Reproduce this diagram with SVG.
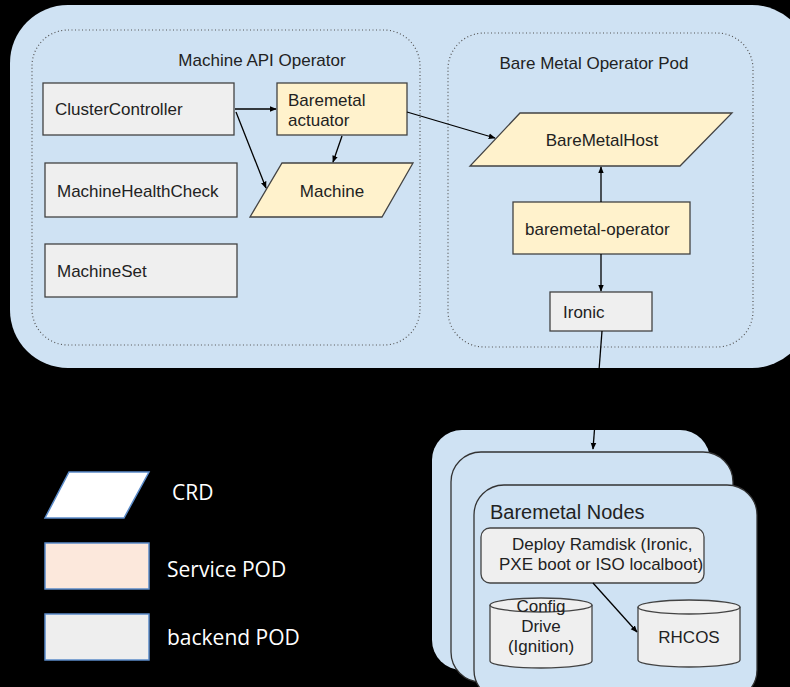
<svg xmlns="http://www.w3.org/2000/svg" width="790" height="687" viewBox="0 0 790 687">
  <defs>
    <marker id="arrow" viewBox="0 0 10 10" refX="9" refY="5" markerWidth="7" markerHeight="7" orient="auto" markerUnits="userSpaceOnUse">
      <path d="M0,1 L10,5 L0,9 z" fill="#000"/>
    </marker>
    <style>
      .panel { fill: #cfe2f3; }
      .group { fill: none; stroke: #555; stroke-width: 1.2; stroke-dasharray: 1 2.5; }
      .backend { fill: #efefef; stroke: #434343; stroke-width: 1.3; }
      .service { fill: #fff2cc; stroke: #434343; stroke-width: 1.3; }
      .card { fill: #cfe2f3; stroke: #333; stroke-width: 1.3; }
      .lbl { font-family: "Liberation Sans", Arial, sans-serif; font-size: 17px; fill: #222; }
      .mid { text-anchor: middle; }
      .edge { fill: none; stroke: #000; stroke-width: 1.3; marker-end: url(#arrow); }
      .key { stroke: #5b8bc9; stroke-width: 1.5; }
      .keytxt { font-family: "Open Sans", "Noto Sans", sans-serif; font-size: 21px; fill: #fff; }
    </style>
  </defs>

  <rect width="790" height="687" fill="#000"/>

  <!-- cluster panel -->
  <rect class="panel" x="10" y="5" width="800" height="363" rx="58"/>

  <g id="machine-api-operator">
    <rect class="group" x="32" y="30" width="388" height="315" rx="36"/>
    <text class="lbl mid" x="262" y="66">Machine API Operator</text>
  </g>

  <g id="bare-metal-operator-pod">
    <rect class="group" x="448" y="33" width="305" height="314" rx="36"/>
    <text class="lbl mid" x="594" y="69">Bare Metal Operator Pod</text>
  </g>

  <g id="cluster-controller">
    <rect class="backend" x="43" y="83" width="191" height="52"/>
    <text class="lbl" x="55" y="115">ClusterController</text>
  </g>

  <g id="machine-health-check">
    <rect class="backend" x="45" y="163" width="192" height="54"/>
    <text class="lbl" x="57" y="197">MachineHealthCheck</text>
  </g>

  <g id="machine-set">
    <rect class="backend" x="45" y="244" width="192" height="53"/>
    <text class="lbl" x="57" y="277">MachineSet</text>
  </g>

  <g id="baremetal-actuator">
    <rect class="service" x="277" y="83" width="130" height="52"/>
    <text class="lbl" x="288" y="106">Baremetal</text>
    <text class="lbl" x="288" y="126">actuator</text>
  </g>

  <g id="machine">
    <polygon class="service" points="282,163 413,163 382,217 250,217"/>
    <text class="lbl mid" x="332" y="197">Machine</text>
  </g>

  <g id="bare-metal-host">
    <polygon class="service" points="520,113 732,113 680,166 470,166"/>
    <text class="lbl mid" x="602" y="146">BareMetalHost</text>
  </g>

  <g id="baremetal-operator">
    <rect class="service" x="513" y="202" width="177" height="52"/>
    <text class="lbl" x="525" y="235">baremetal-operator</text>
  </g>

  <g id="ironic">
    <rect class="backend" x="550" y="292" width="102" height="39"/>
    <text class="lbl" x="563" y="318">Ironic</text>
  </g>

  <!-- stacked node cards -->
  <g id="baremetal-nodes">
    <rect x="432" y="430" width="278" height="240" rx="30" fill="#cfe2f3"/>
    <rect class="card" x="451" y="452" width="282" height="230" rx="30"/>
    <rect class="card" x="474" y="485" width="283" height="215" rx="30"/>
    <text class="lbl" x="490" y="519" style="font-size:20px">Baremetal Nodes</text>
  </g>

  <g id="deploy-ramdisk">
    <rect class="backend" x="481" y="528" width="223" height="55" rx="9"/>
    <text class="lbl" x="512" y="550">Deploy Ramdisk (Ironic,</text>
    <text class="lbl" x="499" y="570">PXE boot or ISO localboot)</text>
  </g>

  <g id="config-drive">
    <path class="backend" d="M490,605 A51,7 0 0 1 592,605 L592,661 A51,7 0 0 1 490,661 Z"/>
    <path class="backend" d="M490,605 A51,7 0 0 0 592,605" fill="none"/>
    <text class="lbl mid" x="541" y="612">Config</text>
    <text class="lbl mid" x="541" y="632">Drive</text>
    <text class="lbl mid" x="541" y="652">(Ignition)</text>
  </g>

  <g id="rhcos">
    <path class="backend" d="M638,607 A51,7 0 0 1 740,607 L740,660 A51,7 0 0 1 638,660 Z"/>
    <path class="backend" d="M638,607 A51,7 0 0 0 740,607" fill="none"/>
    <text class="lbl mid" x="689" y="643">RHCOS</text>
  </g>

  <!-- connectors -->
  <g id="connectors">
    <line class="edge" x1="235" y1="109" x2="276" y2="109"/>
    <line class="edge" x1="236" y1="112" x2="266" y2="188"/>
    <line class="edge" x1="342" y1="136" x2="333" y2="162"/>
    <line class="edge" x1="407" y1="112" x2="495" y2="138"/>
    <line class="edge" x1="601" y1="202" x2="601" y2="167"/>
    <line class="edge" x1="601" y1="254" x2="601" y2="291"/>
    <line class="edge" x1="602" y1="331" x2="593" y2="449"/>
    <line class="edge" x1="593" y1="583" x2="637" y2="632"/>
  </g>

  <!-- legend -->
  <g id="legend">
    <polygon class="key" points="69,472 149,472 124,518 45,518" fill="#fff"/>
    <text class="keytxt" x="172" y="500">CRD</text>
    <rect class="key" x="45" y="543" width="104" height="46" fill="#fce8dc"/>
    <text class="keytxt" x="167" y="577">Service POD</text>
    <rect class="key" x="45" y="614" width="104" height="46" fill="#eeeeee"/>
    <text class="keytxt" x="167" y="645">backend POD</text>
  </g>
</svg>
